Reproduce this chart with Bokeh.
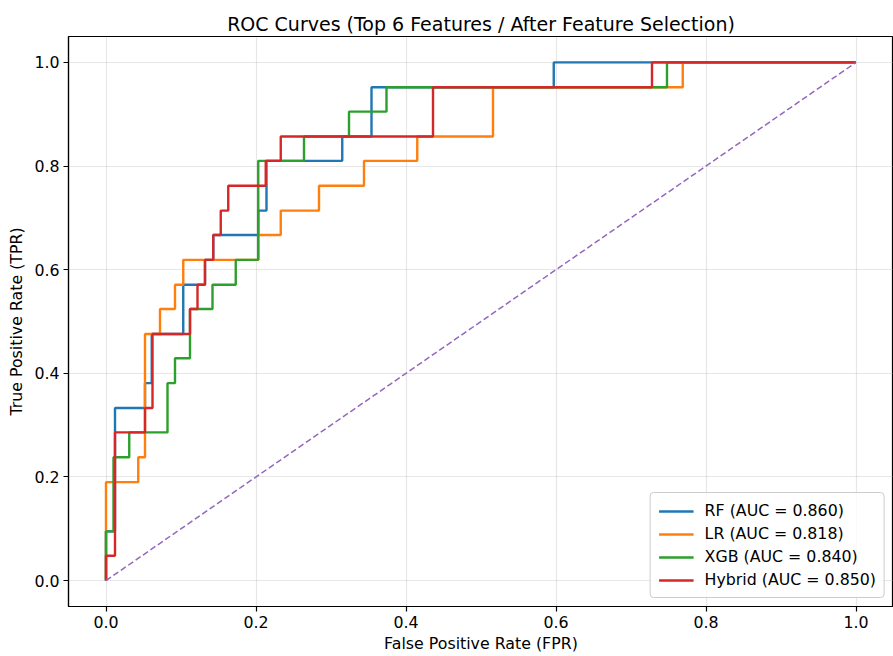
from bokeh.plotting import figure
from bokeh.models import Legend, LegendItem, NumeralTickFormatter, FixedTicker, Range1d
from bokeh.embed import file_html
from bokeh.resources import INLINE

# ROC corner points
rf_fpr = [0.0, 0.0, 0.012, 0.012, 0.052, 0.052, 0.061, 0.061, 0.103, 0.103, 0.132, 0.132,
          0.143, 0.143, 0.203, 0.203, 0.214, 0.214, 0.315, 0.315, 0.354, 0.354, 0.597, 0.597, 1.0]
rf_tpr = [0.0, 0.095, 0.095, 0.333, 0.333, 0.381, 0.381, 0.476, 0.476, 0.571, 0.571, 0.619,
          0.619, 0.667, 0.667, 0.714, 0.714, 0.810, 0.810, 0.857, 0.857, 0.952, 0.952, 1.0, 1.0]

lr_fpr = [0.0, 0.0, 0.043, 0.043, 0.052, 0.052, 0.072, 0.072, 0.092, 0.092, 0.103, 0.103, 0.203,
          0.203, 0.233, 0.233, 0.284, 0.284, 0.344, 0.344, 0.415, 0.415, 0.516, 0.516, 0.769, 0.769, 1.0]
lr_tpr = [0.0, 0.190, 0.190, 0.238, 0.238, 0.476, 0.476, 0.524, 0.524, 0.571, 0.571, 0.619, 0.619,
          0.667, 0.667, 0.714, 0.714, 0.762, 0.762, 0.810, 0.810, 0.857, 0.857, 0.952, 0.952, 1.0, 1.0]

xgb_fpr = [0.0, 0.0, 0.010, 0.010, 0.031, 0.031, 0.082, 0.082, 0.092, 0.092, 0.112, 0.112, 0.142,
           0.142, 0.173, 0.173, 0.203, 0.203, 0.264, 0.264, 0.324, 0.324, 0.374, 0.374, 0.748, 0.748, 1.0]
xgb_tpr = [0.0, 0.095, 0.095, 0.238, 0.238, 0.286, 0.286, 0.381, 0.381, 0.429, 0.429, 0.524, 0.524,
           0.571, 0.571, 0.619, 0.619, 0.810, 0.810, 0.857, 0.857, 0.905, 0.905, 0.952, 0.952, 1.0, 1.0]

hyb_fpr = [0.0, 0.0, 0.012, 0.012, 0.052, 0.052, 0.062, 0.062, 0.112, 0.112, 0.122, 0.122, 0.132,
           0.132, 0.143, 0.143, 0.153, 0.153, 0.163, 0.163, 0.213, 0.213, 0.233, 0.233, 0.436, 0.436,
           0.728, 0.728, 1.0]
hyb_tpr = [0.0, 0.048, 0.048, 0.286, 0.286, 0.333, 0.333, 0.476, 0.476, 0.524, 0.524, 0.571, 0.571,
           0.619, 0.619, 0.667, 0.667, 0.714, 0.714, 0.762, 0.762, 0.810, 0.810, 0.857, 0.857, 0.952,
           0.952, 1.0, 1.0]

model_names = ["RF", "LR", "XGB", "Hybrid"]
auc_values = [0.860, 0.818, 0.840, 0.850]
colors = ["#1f77b4", "#ff7f0e", "#2ca02c", "#d62728"]
chance_x = [0.0, 1.0]
chance_y = [0.0, 1.0]
tick_values = [0.0, 0.2, 0.4, 0.6, 0.8, 1.0]

FONT = "DejaVu Sans"

p = figure(width=893, height=656, output_backend="svg", toolbar_location=None,
           x_range=Range1d(-0.05, 1.05), y_range=Range1d(-0.05, 1.05),
           min_border_left=68, min_border_right=0, min_border_top=36, min_border_bottom=50,
           title="ROC Curves (Top 6 Features / After Feature Selection)")

p.title.align = "center"
p.title.text_font = FONT
p.title.text_font_size = "19px"
p.title.text_font_style = "normal"
p.title.text_color = "black"
p.title.standoff = 4

p.outline_line_color = "black"
p.outline_line_width = 1.2
p.outline_line_alpha = 1.0
p.background_fill_color = "white"
p.border_fill_color = "white"

for ax in (p.xaxis[0], p.yaxis[0]):
    ax.ticker = FixedTicker(ticks=tick_values)
    ax.formatter = NumeralTickFormatter(format="0.0")
    ax.major_label_text_font = FONT
    ax.major_label_text_font_size = "15.8px"
    ax.major_label_text_color = "black"
    ax.axis_label_text_font = FONT
    ax.axis_label_text_font_size = "15.8px"
    ax.axis_label_text_font_style = "normal"
    ax.axis_label_text_color = "black"
    ax.minor_tick_line_color = None
    ax.major_tick_in = 0
    ax.major_tick_out = 5
    ax.major_tick_line_color = "black"
    ax.major_tick_line_width = 1.2
    ax.axis_line_color = "black"
    ax.axis_line_width = 1.2
    ax.major_label_standoff = 4

p.xaxis.axis_label = "False Positive Rate (FPR)"
p.yaxis.axis_label = "True Positive Rate (TPR)"
p.xaxis.axis_label_standoff = 3
p.yaxis.axis_label_standoff = 5

p.xgrid.grid_line_color = "#b0b0b0"
p.ygrid.grid_line_color = "#b0b0b0"
p.xgrid.grid_line_alpha = 0.3
p.ygrid.grid_line_alpha = 0.3
p.xgrid.grid_line_width = 1.2
p.ygrid.grid_line_width = 1.2

series = [(rf_fpr, rf_tpr), (lr_fpr, lr_tpr), (xgb_fpr, xgb_tpr), (hyb_fpr, hyb_tpr)]
items = []
for (fx, ty), name, auc, c in zip(series, model_names, auc_values, colors):
    r = p.line(fx, ty, line_color=c, line_width=2.4)
    items.append(LegendItem(label=f"{name} (AUC = {auc:.3f})", renderers=[r]))

p.line(chance_x, chance_y, line_color="#9467bd", line_width=1.5, line_dash="6 3")

legend = Legend(items=items, location="bottom_right")
legend.label_text_font = FONT
legend.label_text_font_size = "15.8px"
legend.label_text_color = "black"
legend.glyph_width = 35
legend.glyph_height = 18
legend.label_height = 18
legend.label_standoff = 11
legend.spacing = 4
legend.padding = 8
legend.margin = 8
legend.border_line_color = "#cccccc"
legend.border_line_alpha = 1.0
legend.border_radius = 4
legend.background_fill_alpha = 0.8
p.add_layout(legend)

open("out.html", "w").write(file_html(p, INLINE))
